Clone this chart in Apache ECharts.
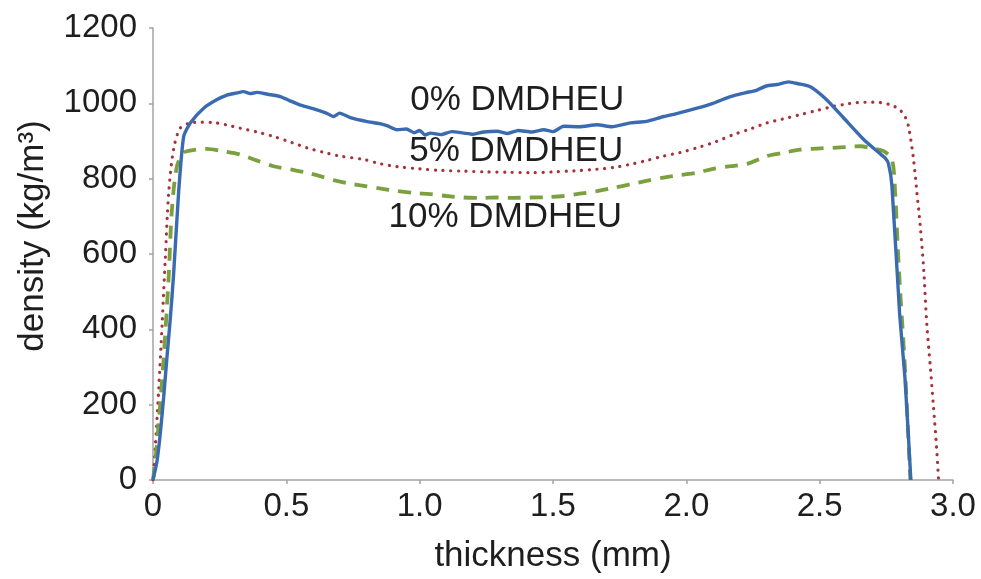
<!DOCTYPE html>
<html>
<head>
<meta charset="utf-8">
<script src="https://cdn.jsdelivr.net/npm/echarts@6/dist/echarts.min.js"></script>
<style>html,body{margin:0;padding:0;background:#fff}#c{width:981px;height:579px}</style>
</head>
<body>
<div id="c"></div>
<script>
// ---- data (thickness in mm, density in kg/m3) ----
const blueX = [0,0.015,0.027,0.04,0.052,0.065,0.077,0.096,0.115,0.14,0.19,0.24,0.277,0.31,0.34,0.365,0.39,0.43,0.477,0.51,0.55,0.60,0.65,0.677,0.70,0.74,0.80,0.85,0.88,0.915,0.95,0.98,1.0,1.02,1.04,1.08,1.12,1.165,1.2,1.24,1.29,1.33,1.37,1.42,1.465,1.50,1.54,1.60,1.665,1.72,1.79,1.85,1.915,1.96,2.04,2.10,2.165,2.22,2.26,2.30,2.34,2.383,2.42,2.465,2.527,2.59,2.665,2.72,2.745,2.758,2.771,2.80,2.82,2.842];
const blueY = [0,50,121,220,323,430,543,763,912,948,987,1010,1022,1027,1031,1026,1029,1024,1018,1008,996,986,974,965,974,962,952,946,940,930,932,922,928,916,921,917,925,921,918,924,926,920,928,924,930,925,939,938,943,938,948,952,965,972,987,1000,1018,1028,1034,1046,1050,1057,1052,1044,1009,961,904,870,855,840,781,440,270,0];

const redX = [0,0.008,0.021,0.034,0.046,0.059,0.077,0.102,0.14,0.18,0.227,0.28,0.327,0.39,0.452,0.52,0.577,0.64,0.70,0.79,0.85,0.915,1.0,1.08,1.165,1.25,1.33,1.415,1.50,1.58,1.665,1.73,1.79,1.85,1.915,1.98,2.05,2.11,2.177,2.24,2.302,2.36,2.427,2.49,2.552,2.60,2.64,2.70,2.727,2.77,2.80,2.82,2.833,2.852,2.865,2.877,2.89,2.902,2.915,2.927,2.937,2.946];
const redY = [0,80,236,411,587,763,877,934,948,950,949,942,934,924,912,896,882,870,860,851,840,832,826,822,820,818,817,816,818,821,825,830,838,848,860,870,884,898,917,932,948,958,970,981,992,998,1002,1003,1002,995,983,965,939,851,760,675,560,411,300,192,100,0];

const greenX = [0,0.01,0.021,0.04,0.059,0.071,0.09,0.115,0.15,0.2,0.26,0.327,0.39,0.452,0.52,0.577,0.63,0.677,0.73,0.79,0.85,0.915,0.98,1.04,1.10,1.165,1.23,1.29,1.35,1.415,1.48,1.54,1.60,1.665,1.73,1.79,1.85,1.915,1.98,2.04,2.10,2.165,2.23,2.302,2.36,2.427,2.49,2.552,2.60,2.652,2.70,2.74,2.771,2.783,2.792,2.802,2.812,2.821,2.83,2.84];
const greenY = [0,60,148,323,543,719,833,869,876,879,873,864,848,833,824,816,806,796,788,781,774,767,762,759,754,750,749,750,749,750,751,754,760,767,776,785,794,803,810,816,826,833,840,860,868,877,880,882,884,886,880,873,851,763,630,499,390,280,150,0];

const xTicks = ['0','0.5','1.0','1.5','2.0','2.5','3.0'];
const yTicks = ['0','200','400','600','800','1000','1200'];
const labelTexts = ['0% DMDHEU','5% DMDHEU','10% DMDHEU'];
const labelX = [1.366,1.362,1.321];
const labelY = [1009,872,698];

const zip = (xs, ys) => xs.map((x, i) => [x, ys[i]]);
const font = 'Liberation Sans, Arial, sans-serif';
const axisGray = '#a3a3a3';
const textColor = '#1e1e1e';

const chart = echarts.init(document.getElementById('c'), null, {renderer: 'canvas'});
chart.setOption({
  animation: false,
  backgroundColor: '#fff',
  grid: {left: 153, top: 28, right: 28, bottom: 96, containLabel: false},
  xAxis: {
    type: 'value', min: 0, max: 3, interval: 0.5,
    name: 'thickness (mm)', nameLocation: 'middle', nameGap: 59,
    nameTextStyle: {fontFamily: font, fontSize: 35, color: textColor},
    axisLine: {show: true, lineStyle: {color: axisGray, width: 1.5}},
    axisTick: {show: true, length: 4, lineStyle: {color: axisGray, width: 1.5}},
    axisLabel: {margin: 10, fontFamily: font, fontSize: 33, color: textColor,
      formatter: v => xTicks[Math.round(v / 0.5)]},
    splitLine: {show: false}
  },
  yAxis: {
    type: 'value', min: 0, max: 1200, interval: 200,
    name: 'density (kg/m\u00B3)', nameLocation: 'middle', nameGap: 102,
    nameTextStyle: {fontFamily: font, fontSize: 35, color: textColor, padding: [0, 0, 0, 36]},
    axisLine: {show: true, lineStyle: {color: axisGray, width: 1.5}},
    axisTick: {show: true, length: 4, lineStyle: {color: axisGray, width: 1.5}},
    axisLabel: {margin: 16, fontFamily: font, fontSize: 33, color: textColor,
      formatter: v => yTicks[Math.round(v / 200)]},
    splitLine: {show: false}
  },
  series: [
    {name: '5%', type: 'line', data: zip(redX, redY), showSymbol: false, smooth: 0.3,
      lineStyle: {color: '#a8323a', width: 3.2, type: [0.1, 7.6], cap: 'round'}, z: 2},
    {name: '10%', type: 'line', data: zip(greenX, greenY), showSymbol: false, smooth: 0.3,
      lineStyle: {color: '#7ba13e', width: 3.8, type: [13, 9]}, z: 3},
    {name: '0%', type: 'line', data: zip(blueX, blueY), showSymbol: false, smooth: 0.2,
      lineStyle: {color: '#3a6bb0', width: 3.4}, z: 4},
    {name: 'labels', type: 'scatter', symbolSize: 0, z: 10, silent: true,
      itemStyle: {opacity: 1},
      data: labelTexts.map((t, i) => ({value: [labelX[i], labelY[i]], name: t})),
      label: {show: true, position: 'inside', formatter: p => p.name, opacity: 1,
        fontFamily: font, fontSize: 35, color: textColor, textBorderWidth: 0}}
  ]
});
</script>
</body>
</html>
